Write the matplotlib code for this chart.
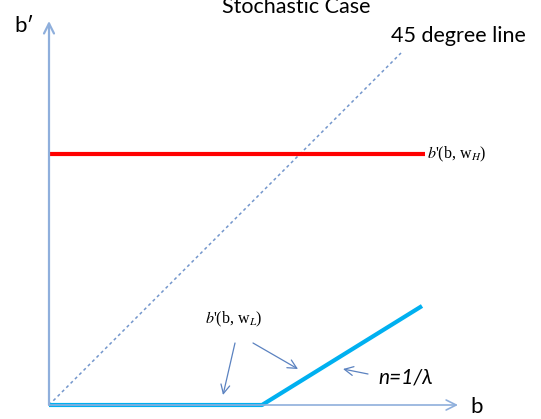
import matplotlib
matplotlib.use("Agg")
import matplotlib.pyplot as plt

plt.rcParams['mathtext.fontset'] = 'stix'

# Diagram data (coordinates relative to the origin of the b/b' axes)
axis_x_end = 409
axis_y_end = 384
deg45_x = [0, 352]
deg45_y = [0, 352]
high_x = [0, 376]
high_y = [251, 251]
low_x = [0, 213, 373]
low_y = [0, 0, 99]
# annotation arrows: (tail, head)
arrows_wl = [((186, 62), (174, 10)), ((204, 62), (249, 36))]
arrow_n = ((319, 31), (294, 36))

W, H = 541, 419
ox, oy = 49, 405
fig = plt.figure(figsize=(W / 100, H / 100), dpi=100)
ax = fig.add_axes([0, 0, 1, 1])
ax.set_xlim(-ox, W - ox)
ax.set_ylim(oy - H, oy)
ax.axis('off')

axis_col = '#8fafdc'
ax.annotate('', xy=(axis_x_end, 0), xytext=(0, 0),
            arrowprops=dict(arrowstyle='->', color=axis_col, lw=1.2,
                            mutation_scale=18, shrinkA=0, shrinkB=0))
ax.annotate('', xy=(0, axis_y_end), xytext=(0, 0),
            arrowprops=dict(arrowstyle='->', color=axis_col, lw=1.6,
                            mutation_scale=18, shrinkA=0, shrinkB=0))

ax.plot(deg45_x, deg45_y, color='#7396cc', lw=1.1, ls=(0, (2, 2)))
ax.plot(high_x, high_y, color='#ff0000', lw=3.0, solid_capstyle='butt')
ax.plot(low_x, low_y, color='#00b0f0', lw=3.0, solid_capstyle='butt')

arr_col = '#5b82c0'
for (t, h) in arrows_wl:
    ax.annotate('', xy=h, xytext=t,
                arrowprops=dict(arrowstyle='->', color=arr_col, lw=0.9,
                                mutation_scale=16, shrinkA=0, shrinkB=0))
ax.annotate('', xy=arrow_n[1], xytext=arrow_n[0],
            arrowprops=dict(arrowstyle='->', color=arr_col, lw=0.9,
                            mutation_scale=16, shrinkA=0, shrinkB=0))

sans = ['Lato', 'DejaVu Sans']
serif = ['Liberation Serif', 'DejaVu Serif']
ax.text(247, oy - 13, 'Stochastic Case', family=sans, fontsize=15.5,
        ha='center', va='baseline', color='black')
ax.text(-35, oy - 32, 'b\u2032', family=sans, fontsize=16,
        ha='left', va='baseline')
ax.text(421, oy - 413, 'b', family=sans, fontsize=16,
        ha='left', va='baseline')
ax.text(342, 405 - 52 + 10, '45 degree line', family=sans, fontsize=15.5,
        ha='left', va='baseline')
ax.text(329, 405 - 383, 'n=1/\u03bb', family=sans, fontsize=15,
        style='italic', ha='left', va='baseline')
ax.text(378, 405 - 158, r"$b$'(b, w$_{H}$)", family=serif, fontsize=11.5,
        ha='left', va='baseline')
ax.text(156, 405 - 323, r"$b$'(b, w$_{L}$)", family=serif, fontsize=11.5,
        ha='left', va='baseline')

fig.savefig('out.png', dpi=100)
